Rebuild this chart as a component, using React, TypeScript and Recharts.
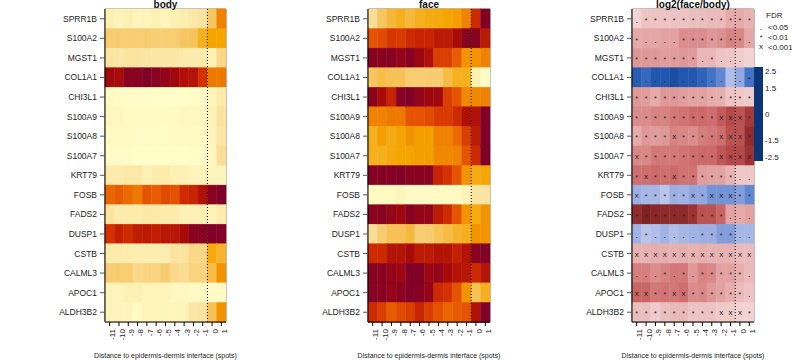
import { BarChart, Bar, Cell, XAxis, YAxis, ReferenceLine, ReferenceArea, Label } from 'recharts'

const genes = ['SPRR1B', 'S100A2', 'MGST1', 'COL1A1', 'CHI3L1', 'S100A9', 'S100A8', 'S100A7', 'KRT79', 'FOSB', 'FADS2', 'DUSP1', 'CSTB', 'CALML3', 'APOC1', 'ALDH3B2']
const distances = ['-11', '-10', '-9', '-8', '-7', '-6', '-5', '-4', '-3', '-2', '-1', '0', '1']
const panelTitles = ['body', 'face', 'log2(face/body)']

// scaled expression, 0 = low (pale) .. 1 = high (dark red)
const bodyLevels = [
  [0.12, 0.1, 0.12, 0.08, 0.1, 0.12, 0.08, 0.12, 0.14, 0.16, 0.2, 0.33, 0.6],
  [0.3, 0.3, 0.3, 0.3, 0.3, 0.29, 0.29, 0.3, 0.33, 0.34, 0.45, 0.5, 0.5],
  [0.2, 0.18, 0.2, 0.2, 0.18, 0.18, 0.18, 0.18, 0.15, 0.15, 0.15, 0.12, 0.25],
  [0.92, 0.9, 0.98, 0.98, 1.0, 0.98, 0.95, 0.92, 0.88, 0.87, 0.78, 0.62, 0.62],
  [0.04, 0.03, 0.03, 0.03, 0.03, 0.02, 0.02, 0.02, 0.02, 0.03, 0.03, 0.08, 0.15],
  [0.06, 0.06, 0.05, 0.04, 0.04, 0.04, 0.05, 0.05, 0.06, 0.06, 0.06, 0.1, 0.2],
  [0.05, 0.05, 0.04, 0.03, 0.03, 0.03, 0.03, 0.04, 0.04, 0.05, 0.05, 0.08, 0.18],
  [0.03, 0.03, 0.03, 0.02, 0.02, 0.02, 0.02, 0.02, 0.02, 0.03, 0.03, 0.06, 0.22],
  [0.15, 0.15, 0.17, 0.17, 0.12, 0.15, 0.15, 0.12, 0.12, 0.1, 0.1, 0.08, 0.08],
  [0.66, 0.68, 0.65, 0.62, 0.7, 0.68, 0.72, 0.7, 0.8, 0.82, 0.88, 0.97, 1.0],
  [0.2, 0.15, 0.15, 0.15, 0.17, 0.17, 0.15, 0.15, 0.12, 0.12, 0.12, 0.1, 0.15],
  [0.78, 0.83, 0.8, 0.84, 0.85, 0.84, 0.86, 0.86, 0.9, 0.98, 0.98, 1.0, 0.99],
  [0.15, 0.15, 0.14, 0.14, 0.14, 0.14, 0.14, 0.2, 0.2, 0.25, 0.25, 0.48, 0.42],
  [0.3, 0.3, 0.3, 0.25, 0.27, 0.27, 0.3, 0.25, 0.23, 0.27, 0.27, 0.38, 0.55],
  [0.1, 0.1, 0.12, 0.12, 0.1, 0.1, 0.08, 0.06, 0.06, 0.05, 0.05, 0.03, 0.04],
  [0.1, 0.1, 0.08, 0.05, 0.1, 0.1, 0.08, 0.1, 0.1, 0.18, 0.2, 0.35, 0.55],
]

const faceLevels = [
  [0.22, 0.33, 0.4, 0.45, 0.4, 0.45, 0.47, 0.48, 0.5, 0.52, 0.6, 0.8, 1.0],
  [0.7, 0.72, 0.77, 0.76, 0.8, 0.82, 0.82, 0.85, 0.85, 0.9, 0.98, 0.98, 0.85],
  [0.98, 0.98, 0.98, 0.95, 0.98, 0.93, 0.88, 0.75, 0.75, 0.68, 0.55, 0.55, 0.6],
  [0.33, 0.37, 0.35, 0.35, 0.3, 0.3, 0.3, 0.3, 0.38, 0.45, 0.45, 0.12, 0.03],
  [0.97, 0.9, 0.82, 0.98, 1.0, 0.95, 0.92, 0.92, 0.75, 0.7, 0.58, 0.58, 0.6],
  [0.6, 0.6, 0.62, 0.62, 0.7, 0.7, 0.72, 0.76, 0.76, 0.8, 0.88, 0.88, 1.0],
  [0.45, 0.52, 0.47, 0.5, 0.55, 0.52, 0.52, 0.6, 0.6, 0.65, 0.75, 0.85, 1.0],
  [0.45, 0.45, 0.48, 0.5, 0.5, 0.52, 0.52, 0.58, 0.58, 0.6, 0.7, 0.8, 1.0],
  [0.99, 0.99, 0.99, 1.0, 0.98, 0.98, 0.98, 0.82, 0.78, 0.7, 0.55, 0.47, 0.5],
  [0.05, 0.05, 0.05, 0.08, 0.04, 0.04, 0.04, 0.04, 0.05, 0.05, 0.1, 0.2, 0.2],
  [0.97, 0.98, 0.95, 0.92, 0.98, 0.95, 0.95, 0.85, 0.8, 0.7, 0.55, 0.47, 0.55],
  [0.22, 0.3, 0.35, 0.35, 0.4, 0.3, 0.3, 0.34, 0.38, 0.42, 0.45, 0.55, 0.55],
  [0.8, 0.8, 0.87, 0.87, 0.9, 0.85, 0.85, 0.87, 0.87, 0.83, 0.87, 0.97, 1.0],
  [0.98, 0.98, 0.95, 0.93, 1.0, 1.0, 0.93, 0.95, 0.9, 0.87, 0.86, 0.8, 0.87],
  [0.98, 0.98, 0.95, 0.97, 1.0, 0.98, 0.95, 0.8, 0.78, 0.7, 0.55, 0.35, 0.45],
  [0.8, 0.75, 0.68, 0.72, 0.75, 0.82, 0.75, 0.7, 0.66, 0.68, 0.7, 0.88, 1.0],
]

const log2Ratio = [
  [0.4, 0.6, 0.6, 0.6, 0.6, 0.6, 0.65, 0.65, 0.7, 0.7, 0.9, 0.9, 0.8],
  [0.9, 0.95, 0.95, 1.0, 1.0, 1.2, 1.2, 1.2, 1.1, 1.15, 1.3, 1.25, 0.95],
  [1.1, 1.1, 1.1, 1.05, 1.05, 1.1, 1.05, 0.75, 0.75, 0.6, 0.55, 0.5, 0.4],
  [-1.9, -1.7, -2.0, -2.0, -2.2, -2.0, -2.0, -1.8, -1.5, -1.3, -0.7, -1.0, -1.5],
  [1.1, 1.05, 0.9, 1.1, 1.1, 1.05, 1.0, 1.0, 0.9, 0.85, 0.6, 0.55, 0.5],
  [1.2, 1.2, 1.3, 1.3, 1.4, 1.45, 1.55, 1.55, 1.5, 1.7, 1.9, 1.8, 2.1],
  [0.9, 1.1, 1.05, 1.1, 1.3, 1.25, 1.2, 1.35, 1.4, 1.5, 1.8, 1.8, 2.3],
  [1.25, 1.25, 1.4, 1.4, 1.4, 1.45, 1.5, 1.55, 1.55, 1.75, 1.9, 1.9, 2.2],
  [1.5, 1.5, 1.55, 1.5, 1.55, 1.45, 1.45, 1.05, 1.0, 1.0, 0.8, 0.55, 0.55],
  [-0.9, -0.8, -0.8, -0.6, -0.9, -0.85, -1.0, -1.0, -1.2, -1.2, -1.2, -1.1, -1.3],
  [2.3, 2.5, 2.4, 2.35, 2.35, 2.35, 2.2, 1.8, 1.8, 1.6, 1.0, 0.9, 1.0],
  [-0.85, -0.6, -0.7, -0.85, -0.7, -0.8, -0.85, -0.9, -0.9, -1.1, -1.1, -0.8, -0.8],
  [0.8, 0.8, 0.85, 0.85, 0.8, 0.85, 0.8, 0.85, 0.8, 0.8, 0.8, 0.7, 0.7],
  [1.35, 1.35, 1.2, 1.3, 1.4, 1.4, 1.1, 1.3, 1.25, 1.0, 1.0, 0.85, 0.7],
  [1.6, 1.6, 1.4, 1.45, 1.4, 1.5, 1.2, 1.25, 1.1, 1.0, 0.85, 0.7, 0.6],
  [0.65, 0.65, 0.5, 0.65, 0.7, 0.75, 0.6, 0.6, 0.6, 0.5, 0.5, 0.4, 0.4],
]

// 0 = n.s., 1 = FDR<0.05, 2 = FDR<0.01, 3 = FDR<0.001
const fdrCode = [
  [1, 2, 2, 2, 2, 2, 2, 2, 2, 2, 2, 2, 2],
  [2, 1, 1, 1, 1, 2, 2, 2, 2, 2, 2, 2, 1],
  [2, 2, 2, 2, 2, 2, 2, 1, 2, 1, 1, 1, 0],
  [1, 1, 1, 1, 1, 1, 1, 1, 1, 1, 0, 1, 2],
  [2, 2, 2, 2, 2, 2, 2, 2, 2, 2, 2, 2, 2],
  [2, 2, 2, 2, 2, 2, 2, 2, 2, 3, 3, 3, 2],
  [2, 2, 2, 2, 3, 2, 2, 2, 2, 3, 3, 3, 2],
  [3, 2, 2, 2, 2, 2, 2, 2, 2, 3, 3, 3, 3],
  [2, 3, 2, 2, 3, 2, 2, 2, 2, 2, 2, 1, 1],
  [3, 2, 2, 2, 2, 2, 3, 2, 3, 3, 3, 2, 2],
  [2, 2, 2, 2, 2, 2, 2, 2, 2, 2, 1, 1, 1],
  [1, 2, 1, 1, 1, 1, 1, 2, 2, 2, 2, 1, 1],
  [3, 3, 3, 3, 3, 3, 3, 3, 3, 3, 3, 3, 3],
  [1, 1, 1, 2, 1, 2, 1, 2, 2, 2, 2, 2, 1],
  [3, 3, 2, 2, 3, 3, 2, 2, 2, 2, 2, 2, 1],
  [2, 2, 2, 2, 2, 2, 2, 2, 2, 3, 3, 3, 2],
]

const fdrLabels = ['<0.05', '<0.01', '<0.001']
const ratioTicks = [2.5, 1.5, 0, -1.5, -2.5]

const HEAT: [number, string][] = [
  [0, '#FFFFCC'], [0.1, '#FEF3B8'], [0.2, '#FBE3A0'], [0.3, '#F8CC70'], [0.4, '#F6B83A'],
  [0.5, '#F5A500'], [0.6, '#EF8200'], [0.7, '#E65300'], [0.8, '#CE2A00'], [0.9, '#A80A0A'], [1, '#800028'],
]
const DIV: [number, string][] = [
  [-2.73, '#0B3577'], [-2, '#2257B0'], [-1.5, '#4274C6'], [-1, '#93A8E0'], [-0.5, '#C3CDEF'], [0, '#F7F5F6'],
  [0.5, '#F0CBCB'], [1, '#E3A2A2'], [1.5, '#CF6E6E'], [2, '#AE4040'], [2.73, '#6A1216'],
]
const RMAX = 2.73

function ramp(stops: [number, string][], v: number) {
  if (v <= stops[0][0]) return stops[0][1]
  for (let i = 1; i < stops.length; i++) {
    const [v1, c1] = stops[i]
    const [v0, c0] = stops[i - 1]
    if (v <= v1) {
      const t = (v - v0) / (v1 - v0)
      const a = parseInt(c0.slice(1), 16)
      const b = parseInt(c1.slice(1), 16)
      const ch = (s: number) => Math.round(((a >> s) & 255) * (1 - t) + ((b >> s) & 255) * t)
      return `rgb(${ch(16)},${ch(8)},${ch(0)})`
    }
  }
  return stops[stops.length - 1][1]
}

const FONT = '"Liberation Sans", Arial, Helvetica, sans-serif'
const INK = '#222'

const rows = genes.map((gene, r) => {
  const row: Record<string, string | number> = { gene }
  distances.forEach((_, c) => {
    row[`c${c}`] = 1
    row[`s${c}`] = fdrCode[r][c]
  })
  return row
})

function symbolFor(code: number, cx: number, cy: number) {
  if (code === 1) return <text x={cx} y={cy + 4} fontSize={9} textAnchor="middle" fill={INK}>.</text>
  if (code === 2) return <text x={cx} y={cy + 4} fontSize={7} textAnchor="middle" fill={INK}>*</text>
  if (code === 3) return <text x={cx} y={cy + 3} fontSize={8} textAnchor="middle" fill={INK}>x</text>
  return null
}

function GeneTick(p: any) {
  return (
    <text x={p.x} y={p.y} dy={3} textAnchor="end" fontSize={8.5} fill={INK} style={{ fill: INK }}>
      {p.payload.value}
    </text>
  )
}

function Panel({
  left,
  colorFor,
  withSymbols,
}: {
  left: number
  colorFor: (r: number, c: number) => string
  withSymbols?: boolean
}) {
  const yWidth = left === 0 ? 105 : 104
  return (
    <div style={{ position: 'absolute', left, top: 0 }}>
      <BarChart
        width={264}
        height={360}
        data={rows}
        layout="vertical"
        barCategoryGap={0}
        barGap={0}
        margin={{ top: 9, right: 38, bottom: 2, left: 0 }}
      >
        <XAxis
          type="number"
          domain={[0, 13]}
          ticks={distances.map((_, i) => i + 0.5)}
          tickFormatter={(v: number) => distances[Math.round(v - 0.5)]}
          interval={0}
          angle={-90}
          textAnchor="end"
          height={36}
          tickSize={4}
          tickMargin={3}
          tick={{ fontSize: 8, fill: INK }}
          stroke="#000"
        >
          <Label value="Distance to epidermis-dermis interface (spots)" position="insideBottom" offset={0} style={{ fontSize: 7, fill: INK }} />
        </XAxis>
        <YAxis
          type="category"
          dataKey="gene"
          width={yWidth}
          interval={0}
          tickSize={5}
          tickMargin={3}
          tick={<GeneTick />}
          tickLine={{ stroke: '#555' }}
          stroke="#000"
        />
        {distances.map((_, c) => (
          <Bar
            key={c}
            dataKey={`c${c}`}
            stackId="s"
            isAnimationActive={false}
            shape={(p: any) => (
              <g>
                <rect x={p.x} y={p.y} width={p.width} height={p.height} fill={p.fill} stroke={p.fill} strokeWidth={0.4} />
                {withSymbols && p.payload ? symbolFor(Number(p.payload[`s${c}`]), p.x + p.width / 2, p.y + p.height / 2) : null}
              </g>
            )}
          >
            {genes.map((g, r) => (
              <Cell key={g} fill={colorFor(r, c)} />
            ))}
          </Bar>
        ))}
        <ReferenceArea x1={0} x2={13} fill="none" stroke="#777" strokeWidth={1} ifOverflow="visible" />
        <ReferenceLine x={11} stroke="#000" strokeDasharray="1 2" strokeWidth={1} />
      </BarChart>
    </div>
  )
}

function Overlay() {
  const top = 67
  const bottom = 161
  const toY = (v: number) => top + ((RMAX - v) / (2 * RMAX)) * (bottom - top)
  const titleX = [165.5, 429, 693]
  return (
    <svg width={792} height={360} style={{ position: 'absolute', left: 0, top: 0, pointerEvents: 'none' }}>
      <defs>
        <linearGradient id="ratioGrad" x1="0" y1="0" x2="0" y2="1">
          {DIV.map(([v, col]) => (
            <stop key={v} offset={(RMAX - v) / (2 * RMAX)} stopColor={col} />
          ))}
        </linearGradient>
      </defs>
      {panelTitles.map((t, i) => (
        <text key={t} x={titleX[i]} y={8} textAnchor="middle" fontSize={10} fontWeight="bold" fill="#111">{t}</text>
      ))}
      <text x={766} y={18} fontSize={8} fill={INK}>FDR</text>
      {fdrLabels.map((lab, i) => (
        <g key={lab}>
          {symbolFor(i + 1, 761, 26 + i * 10)}
          <text x={768} y={30 + i * 10} fontSize={8} fill={INK}>{lab}</text>
        </g>
      ))}
      <rect x={754} y={top} width={9} height={bottom - top} fill="url(#ratioGrad)" />
      {ratioTicks.map((v) => (
        <text key={v} x={765} y={toY(v) + 3} fontSize={8} fill={INK}>{v}</text>
      ))}
    </svg>
  )
}

export default function App() {
  return (
    <div style={{ position: 'absolute', left: 0, top: 0, width: 792, height: 360, background: '#fff', fontFamily: FONT }}>
      <Panel left={0} colorFor={(r, c) => ramp(HEAT, bodyLevels[r][c])} />
      <Panel left={264} colorFor={(r, c) => ramp(HEAT, faceLevels[r][c])} />
      <Panel left={528} colorFor={(r, c) => ramp(DIV, log2Ratio[r][c])} withSymbols />
      <Overlay />
    </div>
  )
}
